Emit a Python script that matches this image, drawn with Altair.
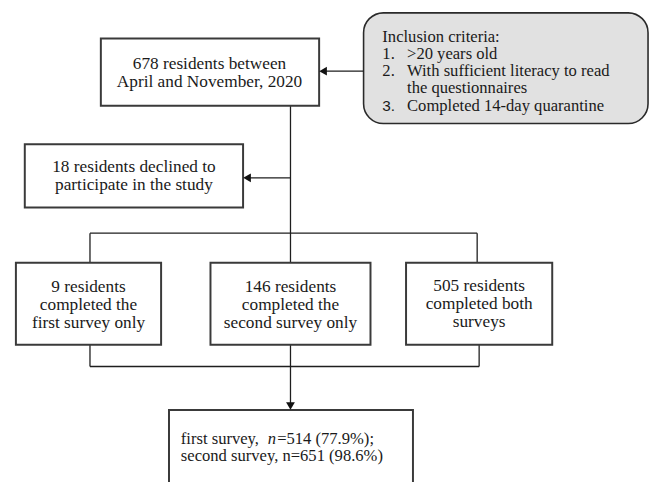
import altair as alt
import pandas as pd

# ---- boxes (page pixel coordinates) ----
box_x1 = [102, 25, 16, 213, 411, 171]
box_x2 = [323, 246, 163, 375, 559, 418]
box_y1 = [36, 143, 263, 263, 263, 412]
box_y2 = [104, 207, 346, 346, 346, 500]

incl_x1 = [368]
incl_x2 = [656]
incl_y1 = [10]
incl_y2 = [122]

# ---- centered box texts ----
center_text = ["678 residents between", "April and November, 2020",
               "18 residents declined to", "participate in the study",
               "9 residents", "completed the", "first survey only",
               "146 residents", "completed the", "second survey only",
               "505 residents", "completed both", "surveys"]
center_x = [212, 212, 135.5, 135.5, 89.5, 89.5, 89.5, 294, 294, 294, 485, 485, 485]
center_y = [62, 80, 166, 184, 288, 306, 324, 288, 306, 324, 287, 305, 323]

# ---- left aligned texts (serif, normal) ----
left_text = ["Inclusion criteria:", "1.", ">20 years old", "2.",
             "With sufficient literacy to read", "the questionnaires",
             "Completed 14-day quarantine",
             "first survey,", "=514 (77.9%);", "second survey, n=651 (98.6%)"]
left_x = [387, 387, 412, 387, 412, 412, 412, 183, 280.5, 183]
left_y = [34, 51.5, 51.5, 69, 69, 86.5, 104, 441, 441, 458.5]

sans_text = ["3."]
sans_x = [387]
sans_y = [104]

italic_text = ["n"]
italic_x = [271]
italic_y = [441]

# ---- connector lines ----
seg_x1 = [368, 294, 294, 91, 91, 483, 91, 485, 91, 294]
seg_x2 = [326, 294, 249, 483, 91, 483, 91, 485, 485, 294]
seg_y1 = [69, 104, 177, 233, 233, 233, 346, 346, 368, 346]
seg_y2 = [69, 263, 177, 233, 263, 263, 368, 368, 368, 408]

# ---- arrowheads ----
head_x = [327, 250, 294]
head_y = [69, 177, 408]
head_shape = ["triangle-left", "triangle-left", "triangle-down"]

xs = alt.Scale(domain=[8, 659])
ys = alt.Scale(domain=[8, 482], reverse=True)
FONT = "Liberation Serif"

boxes = pd.DataFrame({"x": box_x1, "x2": box_x2, "y": box_y1, "y2": box_y2})
incl = pd.DataFrame({"x": incl_x1, "x2": incl_x2, "y": incl_y1, "y2": incl_y2})
ctext = pd.DataFrame({"x": center_x, "y": center_y, "t": center_text})
ltext = pd.DataFrame({"x": left_x, "y": left_y, "t": left_text})
stext = pd.DataFrame({"x": sans_x, "y": sans_y, "t": sans_text})
itext = pd.DataFrame({"x": italic_x, "y": italic_y, "t": italic_text})
segs = pd.DataFrame({"x": seg_x1, "x2": seg_x2, "y": seg_y1, "y2": seg_y2})
heads = pd.DataFrame({"x": head_x, "y": head_y, "s": head_shape})

X = alt.X("x:Q", scale=xs, axis=None)
Y = alt.Y("y:Q", scale=ys, axis=None)

incl_layer = alt.Chart(incl).mark_rect(
    fill="#e1e1e1", stroke="#2a2a2a", strokeWidth=1.6, cornerRadius=20
).encode(x=X, x2="x2:Q", y=Y, y2="y2:Q")

box_layer = alt.Chart(boxes).mark_rect(
    fill="white", stroke="#3a3a3a", strokeWidth=2
).encode(x=X, x2="x2:Q", y=Y, y2="y2:Q")

seg_layer = alt.Chart(segs).mark_rule(
    color="#1e1e1e", strokeWidth=1.3
).encode(x=X, x2="x2:Q", y=Y, y2="y2:Q")

head_layer = alt.Chart(heads).mark_point(
    filled=True, color="#111111", size=80, opacity=1
).encode(x=X, y=Y, shape=alt.Shape("s:N", scale=None, legend=None))

ctext_layer = alt.Chart(ctext).mark_text(
    font=FONT, fontSize=17.5, align="center", baseline="middle", color="#1a1a1a"
).encode(x=X, y=Y, text="t:N")

ltext_layer = alt.Chart(ltext).mark_text(
    font=FONT, fontSize=16.8, align="left", baseline="middle", color="#1a1a1a"
).encode(x=X, y=Y, text="t:N")

stext_layer = alt.Chart(stext).mark_text(
    font="Liberation Sans", fontSize=15.5, align="left", baseline="middle", color="#1a1a1a"
).encode(x=X, y=Y, text="t:N")

itext_layer = alt.Chart(itext).mark_text(
    font=FONT, fontSize=16.8, fontStyle="italic", align="left", baseline="middle", color="#1a1a1a"
).encode(x=X, y=Y, text="t:N")

chart = alt.layer(
    incl_layer, seg_layer, box_layer, head_layer,
    ctext_layer, ltext_layer, stext_layer, itext_layer
).properties(
    width=651, height=474, padding=0, autosize="none"
).configure_view(stroke=None)

chart.save("out.html", embed_options={"renderer": "svg", "actions": False})
